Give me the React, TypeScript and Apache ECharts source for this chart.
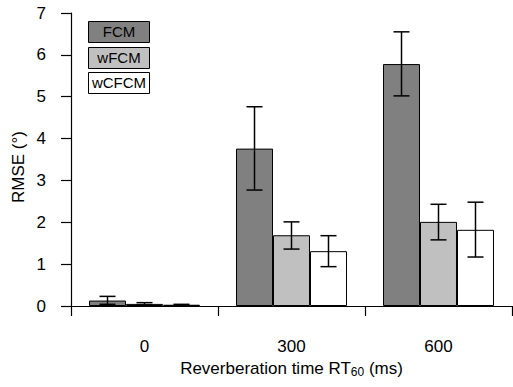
import React, { useEffect, useRef } from "react";
import * as echarts from "echarts";

const categories = ["0", "300", "600"];
const seriesNames = ["FCM", "wFCM", "wCFCM"];
const fcm = [0.13, 3.76, 5.78];
const wfcm = [0.05, 1.69, 2.01];
const wcfcm = [0.03, 1.31, 1.82];
const fcmLow = [0.04, 2.77, 5.02];
const fcmHigh = [0.23, 4.76, 6.55];
const wfcmLow = [0.02, 1.36, 1.58];
const wfcmHigh = [0.08, 2.01, 2.43];
const wcfcmLow = [0.01, 0.94, 1.17];
const wcfcmHigh = [0.04, 1.68, 2.48];
const yTicks = [0, 1, 2, 3, 4, 5, 6, 7];

const colors = ["#808080", "#c0c0c0", "#ffffff"];
const FONT = "'Liberation Sans', Arial, sans-serif";
const CAT_GAP = 0.245;

export default function App() {
  const ref = useRef<HTMLDivElement>(null);
  useEffect(() => {
    if (!ref.current) return;
    const chart = echarts.init(ref.current, null, { renderer: "svg" });
    const values = [fcm, wfcm, wcfcm];
    const lows = [fcmLow, wfcmLow, wcfcmLow];
    const highs = [fcmHigh, wfcmHigh, wcfcmHigh];
    const errData: number[][] = [];
    for (let s = 0; s < 3; s++) {
      for (let c = 0; c < categories.length; c++) {
        errData.push([c, s, lows[s][c], highs[s][c]]);
      }
    }
    const barSeries = seriesNames.map((name, i) => ({
      name,
      type: "bar",
      data: values[i],
      barGap: "0%",
      barCategoryGap: CAT_GAP * 100 + "%",
      itemStyle: { color: colors[i], borderColor: "#000", borderWidth: 1 },
    }));
    const graphics: any[] = [];
    const legendY = [21, 47, 72];
    seriesNames.forEach((n, i) => {
      graphics.push({
        type: "rect",
        shape: { x: 88.5, y: legendY[i] + 0.5, width: 61, height: 21 },
        style: { fill: colors[i], stroke: "#000", lineWidth: 1 },
        z: 100,
      });
      graphics.push({
        type: "text",
        x: 119,
        y: legendY[i] + 10.5,
        style: {
          text: n,
          fill: "#000",
          font: `15px ${FONT}`,
          textAlign: "center",
          textVerticalAlign: "middle",
        },
        z: 101,
      });
    });
    graphics.push({
      type: "text",
      x: 18,
      y: 167,
      rotation: Math.PI / 2,
      style: {
        text: "RMSE (°)",
        fill: "#000",
        font: `17px ${FONT}`,
        textAlign: "center",
        textVerticalAlign: "middle",
      },
    });
    chart.setOption({
      animation: false,
      textStyle: { fontFamily: FONT },
      grid: { left: 71, right: 1, top: 13, bottom: 81, containLabel: false, outerBoundsMode: "none" },
      xAxis: {
        type: "category",
        data: categories,
        boundaryGap: true,
        axisLine: { lineStyle: { color: "#000", width: 1.2 } },
        axisTick: { show: true, length: 10, inside: false, lineStyle: { color: "#000", width: 1.2 } },
        axisLabel: { color: "#000", fontSize: 17, margin: 32, fontFamily: FONT },
        name: "Reverberation time RT{sub|60} (ms)",
        nameLocation: "middle",
        nameGap: 52,
        nameTextStyle: {
          color: "#000",
          fontSize: 17,
          fontFamily: FONT,
          rich: { sub: { fontSize: 12, verticalAlign: "bottom", padding: [8, 0, 0, 0], fontFamily: FONT } },
        },
      },
      yAxis: {
        type: "value",
        min: 0,
        max: 7,
        interval: 1,
        axisLine: { show: true, lineStyle: { color: "#000", width: 1.2 } },
        axisTick: { show: true, length: 10, lineStyle: { color: "#000", width: 1.2 } },
        splitLine: { show: false },
        axisLabel: {
          color: "#000",
          fontSize: 17,
          margin: 25,
          fontFamily: FONT,
          formatter: (v: number) => (yTicks.includes(v) ? String(v) : ""),
        },
      },
      series: [
        ...barSeries,
        {
          type: "custom",
          data: errData,
          z: 10,
          renderItem: (params: any, api: any) => {
            const c = api.value(0);
            const s = api.value(1);
            const lo = api.value(2);
            const hi = api.value(3);
            const catW = api.size([1, 0])[0];
            const barW = (catW * (1 - CAT_GAP)) / 3;
            const center = api.coord([c, 0])[0];
            const x = center + (s - 1) * barW;
            const yLo = api.coord([c, lo])[1];
            const yHi = api.coord([c, hi])[1];
            const half = 8;
            const st = { stroke: "#000", lineWidth: 1.5 };
            return {
              type: "group",
              children: [
                { type: "line", shape: { x1: x, y1: yLo, x2: x, y2: yHi }, style: st },
                { type: "line", shape: { x1: x - half, y1: yLo, x2: x + half, y2: yLo }, style: st },
                { type: "line", shape: { x1: x - half, y1: yHi, x2: x + half, y2: yHi }, style: st },
              ],
            };
          },
        },
      ],
      graphic: graphics,
    });
    return () => chart.dispose();
  }, []);
  return <div ref={ref} style={{ width: 513, height: 387, position: "absolute", left: 0, top: 0 }} />;
}
